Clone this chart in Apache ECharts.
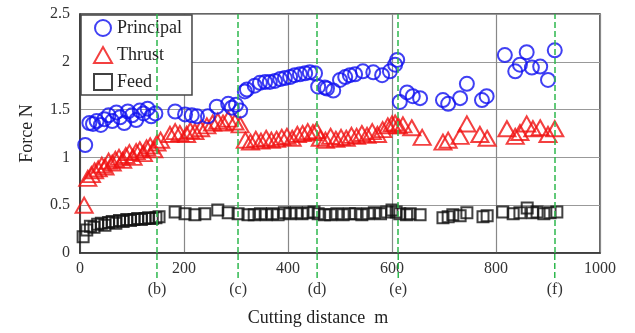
<!DOCTYPE html>
<html>
<head>
<meta charset="utf-8">
<script src="https://cdn.jsdelivr.net/npm/echarts@6/dist/echarts.min.js"></script>
<style>
  html, body { margin: 0; padding: 0; background: #fff; }
  #chart { width: 635px; height: 333px; }
</style>
</head>
<body>
<div id="chart"></div>
<script>
// cutting distance (m) and force (N)
var principalX = [10,18,25,32,40,47,55,62,70,77,85,92,100,108,115,122,130,137,145,
                  183,202,215,225,246,263,285,292,300,308,
                  317,321,336,346,356,365,375,385,394,404,413,423,433,442,452,
                  458,471,475,487,500,510,519,529,544,564,581,596,606,610,
                  615,629,640,654,698,708,731,744,773,782,
                  817,837,846,859,869,885,900,913];
var principalY = [1.13,1.36,1.35,1.38,1.34,1.40,1.44,1.38,1.47,1.42,1.36,1.48,1.44,1.39,1.49,1.46,1.51,1.43,1.46,
                  1.48,1.45,1.44,1.43,1.43,1.53,1.56,1.52,1.55,1.49,
                  1.69,1.71,1.75,1.78,1.79,1.79,1.80,1.82,1.83,1.84,1.86,1.87,1.88,1.89,1.88,
                  1.74,1.73,1.72,1.70,1.81,1.84,1.86,1.87,1.90,1.89,1.86,1.90,1.97,2.02,
                  1.58,1.68,1.64,1.62,1.60,1.56,1.62,1.77,1.60,1.64,
                  2.07,1.90,1.97,2.10,1.94,1.95,1.81,2.12];

var thrustX = [8,15,22,28,35,42,48,55,62,68,75,82,88,95,102,108,115,122,128,135,142,148,155,
               173,183,192,205,212,221,232,244,255,265,275,285,298,308,
               318,328,338,348,358,368,378,388,398,408,418,428,438,448,455,
               462,472,482,492,502,512,522,532,542,552,562,572,582,592,600,606,612,
               621,638,658,698,708,731,744,769,783,
               821,837,846,859,871,885,900,913];
var thrustY = [0.50,0.78,0.82,0.86,0.88,0.92,0.90,0.96,0.94,0.98,1.00,0.97,1.02,1.05,1.00,1.06,1.08,1.04,1.10,1.12,1.08,1.15,1.18,
               1.24,1.27,1.25,1.24,1.28,1.27,1.30,1.33,1.36,1.38,1.36,1.40,1.37,1.34,
               1.18,1.16,1.19,1.17,1.20,1.18,1.19,1.21,1.22,1.20,1.24,1.25,1.27,1.26,1.28,
               1.20,1.18,1.22,1.19,1.21,1.20,1.23,1.22,1.25,1.23,1.27,1.24,1.29,1.33,1.35,1.36,1.33,
               1.34,1.31,1.21,1.16,1.18,1.22,1.35,1.24,1.20,
               1.30,1.22,1.26,1.35,1.30,1.31,1.24,1.30];

var feedX = [6,13,20,27,34,41,48,55,62,69,76,83,90,97,104,111,118,125,132,139,146,152,
             183,202,221,240,265,285,304,323,
             335,347,358,370,381,393,404,416,427,439,450,458,
             470,482,494,506,518,530,542,554,566,578,590,600,608,615,628,
             635,654,698,708,717,731,744,775,783,
             813,833,846,860,870,879,892,904,917];
var feedY = [0.17,0.24,0.28,0.27,0.30,0.31,0.29,0.32,0.33,0.31,0.34,0.33,0.35,0.34,0.35,0.36,0.35,0.36,0.37,0.36,0.37,0.38,
             0.43,0.41,0.40,0.41,0.45,0.42,0.41,0.40,
             0.40,0.41,0.40,0.41,0.40,0.42,0.41,0.42,0.41,0.42,0.43,0.41,
             0.40,0.40,0.41,0.40,0.41,0.41,0.40,0.41,0.42,0.41,0.43,0.45,0.43,0.41,0.40,
             0.41,0.40,0.37,0.38,0.40,0.39,0.42,0.38,0.39,
             0.43,0.41,0.42,0.47,0.42,0.43,0.41,0.42,0.43];

// observation points (b)..(f)
var markX = [148,304,456,612,913];
var markNames = ['(b)','(c)','(d)','(e)','(f)'];

function pairs(xs, ys) {
  var out = [];
  for (var i = 0; i < xs.length; i++) out.push([xs[i], ys[i]]);
  return out;
}

var font = '"Liberation Serif", "DejaVu Serif", serif';
var green = '#2eb84e';

var myChart = echarts.init(document.getElementById('chart'));

var option = {
  backgroundColor: '#fff',
  animation: false,
  textStyle: { fontFamily: font },
  grid: [
    {
      left: 80, right: 35, top: 14, bottom: 80,
      show: true, borderColor: '#333', borderWidth: 1.5,
      outerBoundsMode: 'none'
    },
    // strip under the plot, carries the (b)..(f) marks
    {
      left: 80, right: 35, top: 253, height: 25,
      outerBoundsMode: 'none'
    }
  ],
  legend: {
    orient: 'vertical',
    left: 81, top: 15,
    data: ['Principal', 'Thrust', 'Feed'],
    backgroundColor: '#fff',
    borderColor: '#444',
    borderWidth: 1.5,
    borderRadius: 0,
    padding: [4, 10, 4, 12],
    itemGap: 9,
    itemWidth: 18,
    itemHeight: 16,
    textStyle: { fontFamily: font, fontSize: 18, color: '#222' }
  },
  xAxis: [
    {
      type: 'value',
      gridIndex: 0,
      min: 0, max: 1000, interval: 200,
      name: 'Cutting distance  m',
      nameLocation: 'middle',
      nameGap: 56,
      nameTextStyle: { fontFamily: font, fontSize: 18, color: '#222', padding: [0, 44, 0, 0] },
      axisLine: { lineStyle: { color: '#333', width: 1.5 } },
      axisTick: { show: false },
      axisLabel: {
        fontFamily: font, fontSize: 16, color: '#333', margin: 8,
        formatter: function (v) { return String(v); }
      },
      splitLine: { lineStyle: { color: '#888', width: 1.2 } }
    },
    {
      type: 'value',
      gridIndex: 1,
      min: 0, max: 1000,
      axisLine: { show: false },
      axisTick: { show: false },
      splitLine: { show: false },
      axisLabel: {
        customValues: markX,
        margin: 4,
        fontFamily: font, fontSize: 16, color: '#333',
        formatter: function (v) {
          var i = markX.indexOf(v);
          return i >= 0 ? markNames[i] : '';
        }
      }
    }
  ],
  yAxis: [
    {
      type: 'value',
      gridIndex: 0,
      min: 0, max: 2.5, interval: 0.5,
      name: 'Force N',
      nameLocation: 'middle',
      nameGap: 44,
      nameTextStyle: { fontFamily: font, fontSize: 18, color: '#222' },
      axisLine: { show: true, lineStyle: { color: '#333', width: 1.5 } },
      axisTick: { show: false },
      axisLabel: { fontFamily: font, fontSize: 16, color: '#333', margin: 10 },
      splitLine: { lineStyle: { color: '#999', width: 1.2 } }
    },
    {
      type: 'value',
      gridIndex: 1,
      min: 0, max: 1,
      axisLine: { show: false },
      axisTick: { show: false },
      axisLabel: { show: false },
      splitLine: { show: false }
    }
  ],
  series: [
    {
      name: 'Principal',
      type: 'scatter',
      symbol: 'circle',
      symbolSize: 14,
      itemStyle: { color: 'rgba(0,0,0,0)', borderColor: '#1010f0', borderWidth: 2 },
      data: pairs(principalX, principalY),
      z: 4,
      markLine: {
        silent: true,
        symbol: ['none', 'none'],
        label: { show: false },
        lineStyle: { color: green, type: 'dashed', width: 1.5 },
        data: markX.map(function (v) { return { xAxis: v }; })
      }
    },
    {
      name: 'Thrust',
      type: 'scatter',
      symbol: 'triangle',
      symbolSize: [17, 15],
      itemStyle: { color: 'rgba(0,0,0,0)', borderColor: '#f01010', borderWidth: 2 },
      data: pairs(thrustX, thrustY),
      z: 3
    },
    {
      name: 'Feed',
      type: 'scatter',
      symbol: 'rect',
      symbolSize: 11,
      itemStyle: { color: 'rgba(0,0,0,0)', borderColor: '#111', borderWidth: 2 },
      data: pairs(feedX, feedY),
      z: 3
    },
    {
      // green dashes continuing below the axis; shares the Principal legend
      // name so the legend filter keeps it (legend icon comes from the first one)
      name: 'Principal',
      type: 'line',
      xAxisIndex: 1,
      yAxisIndex: 1,
      z: 10,
      symbol: 'none',
      connectNulls: false,
      itemStyle: { color: green },
      lineStyle: { color: green, type: 'dashed', width: 1.5 },
      data: [].concat.apply([], markX.map(function (v) { return [[v, 0], [v, 1], null]; }))
    }
  ]
};

myChart.setOption(option);
</script>
</body>
</html>
